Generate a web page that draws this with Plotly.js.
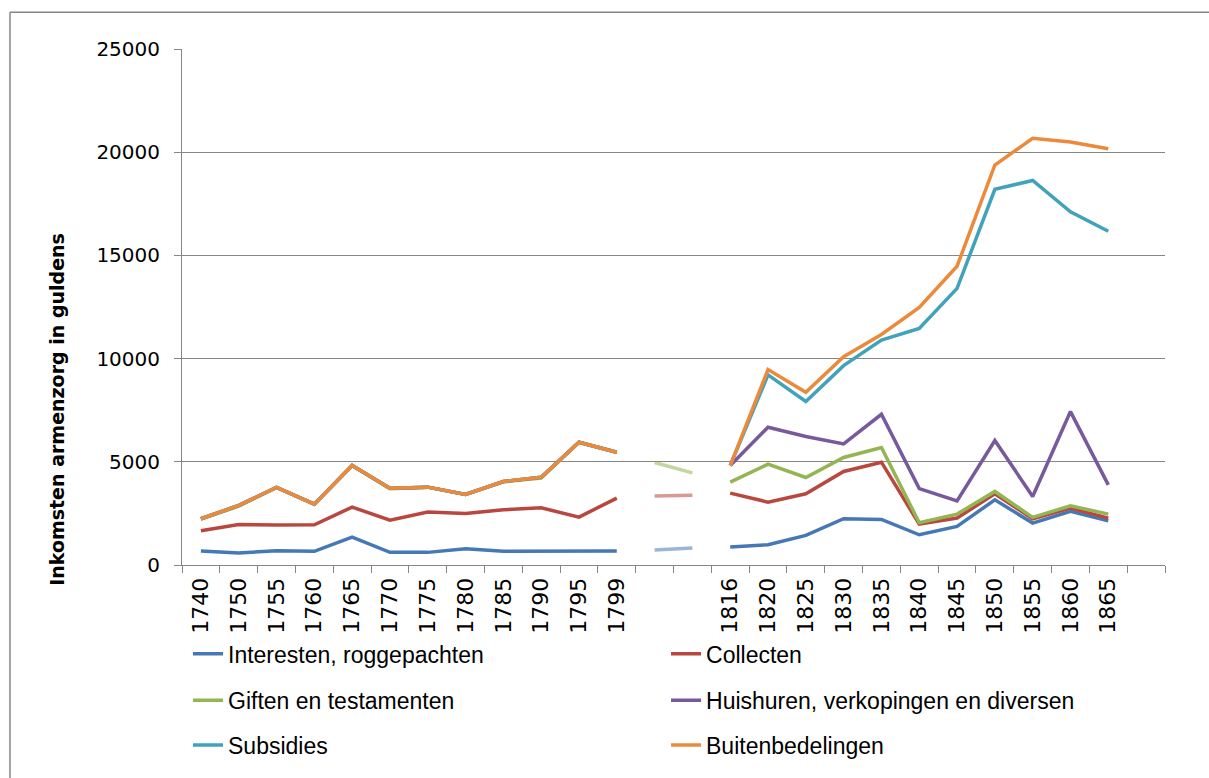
<!DOCTYPE html>
<html>
<head>
<meta charset="utf-8">
<script src="https://cdn.plot.ly/plotly-3.0.1.min.js"></script>
<style>html,body{margin:0;padding:0;background:#fff;overflow:hidden;}#chart{width:1209px;height:778px;}</style>
</head>
<body>
<div id="chart"></div>
<script>
// Categories (blank slots kept as unique whitespace labels)
var categories = ['1740','1750','1755','1760','1765','1770','1775','1780','1785','1790','1795','1799',' ','  ',
  '1816','1820','1825','1830','1835','1840','1845','1850','1855','1860','1865','   '];

// Cumulative (stacked) line values
var interesten = [677,580,693,661,1354,612,612,790,661,661,661,677,null,null,
  870,982,1436,2240,2210,1465,1871,3158,2031,2597,2143,null];
var collecten = [1660,1966,1934,1950,2805,2176,2563,2499,2676,2773,2321,3240,null,null,
  3482,3047,3450,4531,4981,1983,2273,3450,2240,2757,2273,null];
var giften = [2230,2850,3757,2950,4820,3690,3772,3420,4030,4215,5948,5465,null,null,
  4014,4885,4240,5208,5692,2046,2466,3564,2307,2868,2466,null];
var huishuren = [2240,2885,3757,2950,4820,3724,3772,3420,4046,4255,5948,5465,null,null,
  4820,6674,6224,5866,7302,3700,3110,6030,3322,7433,3883,null];
var subsidies = [2240,2885,3757,2950,4820,3724,3772,3420,4046,4255,5948,5465,null,null,
  4820,9210,7925,9660,10900,11460,13400,18200,18630,17110,16170,null];
var buiten = [2240,2885,3757,2950,4820,3724,3772,3420,4046,4255,5948,5465,null,null,
  4820,9470,8370,10090,11170,12476,14476,19380,20670,20490,20170,null];

// Faded estimates in the gap (between the two blank slots)
var gapCategories = [' ','  '];
var gapInteresten = [725,822];
var gapCollecten = [3337,3385];
var gapGiften = [4965,4465];

var yTickVals = [0,5000,10000,15000,20000,25000];
var yTickText = ['0','5000','10000','15000','20000','25000'];

var names = ['Interesten, roggepachten','Collecten','Giften en testamenten',
  'Huishuren, verkopingen en diversen','Subsidies','Buitenbedelingen'];
var colors = ['#4678B6','#B9473F','#93B552','#77599C','#41A2BC','#EC8A3C'];
var series = [interesten, collecten, giften, huishuren, subsidies, buiten];
var legendIds = ['legend','legend2','legend3','legend4','legend5','legend6'];

var traces = [];
[[gapInteresten,0],[gapCollecten,1],[gapGiften,2]].forEach(function(p){
  traces.push({x: gapCategories, y: p[0], type:'scatter', mode:'lines', showlegend:false,
    opacity:0.55, line:{color:colors[p[1]], width:3.5}, hoverinfo:'skip'});
});
series.forEach(function(s,i){
  traces.push({x: categories, y: s, name: names[i], type:'scatter', mode:'lines',
    line:{color:colors[i], width:3.5}, connectgaps:false, legend: legendIds[i]});
});

var fontFam = '"Liberation Sans", Arial, sans-serif';
var axisColor = '#868686';
function leg(x, y){
  return {orientation:'h', x:x, xanchor:'left', y:y, yanchor:'middle',
    font:{family:fontFam, size:23, color:'#000'}, bgcolor:'rgba(0,0,0,0)', borderwidth:0};
}
var colX = [0.0061, 0.4924];
var rowY = [-0.172, -0.262, -0.349];

var layout = {
  width:1209, height:778,
  margin:{l:182, r:44, t:49, b:211},
  paper_bgcolor:'#fff', plot_bgcolor:'#fff',
  showlegend:true,
  xaxis:{type:'category', categoryorder:'array', categoryarray:categories,
    range:[-0.5,25.5], tickson:'boundaries', ticks:'outside', ticklen:7, tickcolor:axisColor,
    showline:true, linecolor:axisColor, linewidth:1, showgrid:false, zeroline:false,
    tickangle:-90, ticklabelstandoff:3,
    tickfont:{family:'"DejaVu Sans", sans-serif', size:22, color:'#000'}, fixedrange:true},
  yaxis:{range:[0,25000], tickmode:'array', tickvals:yTickVals, ticktext:yTickText, ticks:'outside', ticklen:7,
    tickcolor:axisColor, showline:true, linecolor:axisColor, linewidth:1,
    showgrid:true, gridcolor:axisColor, gridwidth:1, zeroline:false, ticklabelstandoff:10,
    tickfont:{family:'"DejaVu Sans", sans-serif', size:20, color:'#000'}, fixedrange:true},
  legend: leg(colX[0], rowY[0]),
  legend2: leg(colX[1], rowY[0]),
  legend3: leg(colX[0], rowY[1]),
  legend4: leg(colX[1], rowY[1]),
  legend5: leg(colX[0], rowY[2]),
  legend6: leg(colX[1], rowY[2]),
  annotations:[{xref:'paper', yref:'paper', x:-0.127, y:0.301, xanchor:'center', yanchor:'middle',
    text:'<b>Inkomsten armenzorg in guldens</b>', textangle:-90, showarrow:false,
    font:{family:'"DejaVu Sans", sans-serif', size:19, color:'#000'}}],
  shapes:[
    {type:'line', xref:'paper', yref:'paper', x0:-0.175, x1:1.1, y0:1.0714, y1:1.0714,
      line:{color:axisColor, width:1.5}, layer:'below'},
    {type:'line', xref:'paper', yref:'paper', x0:-0.175, x1:-0.175, y0:1.0714, y1:-0.45,
      line:{color:axisColor, width:1.5}, layer:'below'}
  ]
};

Plotly.newPlot('chart', traces, layout, {displayModeBar:false, staticPlot:true});
</script>
</body>
</html>
